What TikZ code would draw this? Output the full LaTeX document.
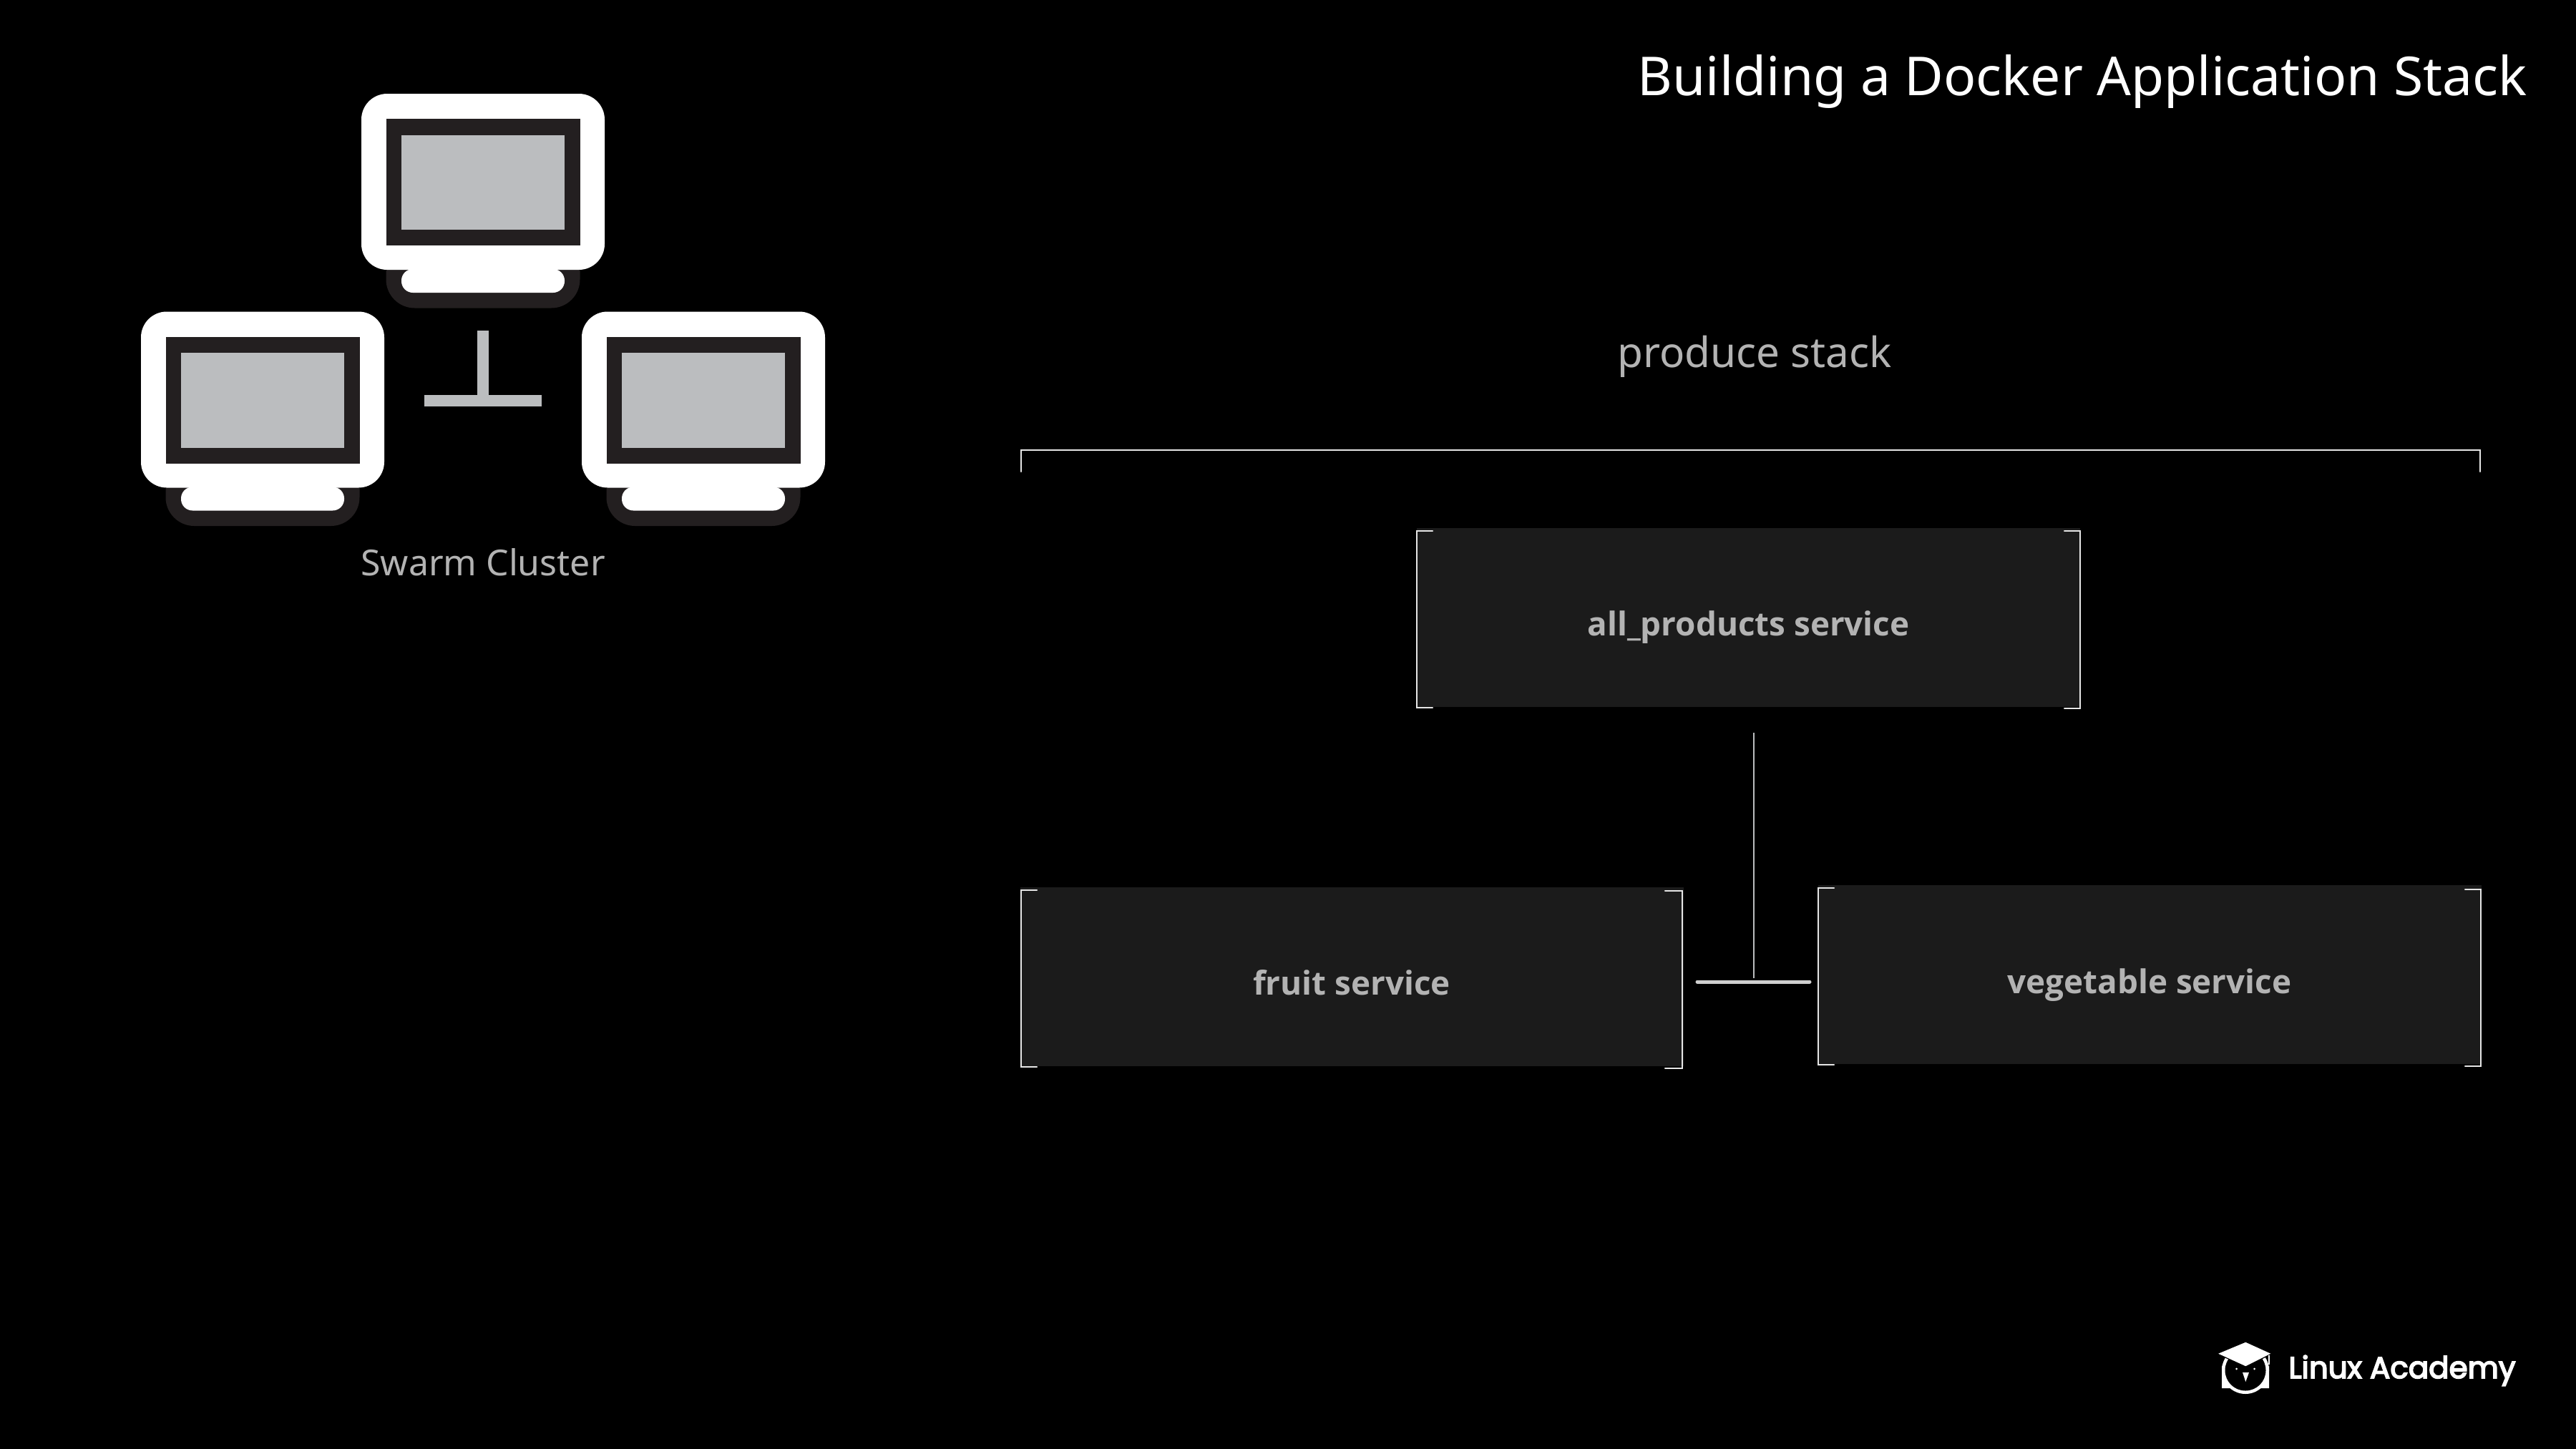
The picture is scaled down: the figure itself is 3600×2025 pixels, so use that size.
\documentclass[tikz,border=0pt]{standalone}
\usepackage{fontspec}
\setmainfont{Noto Sans}
\newfontfamily\svcfont{Open Sans}
\newfontfamily\logofont{Poppins}[FakeBold=4]
\definecolor{boxfill}{HTML}{1B1B1B}
\definecolor{scrdark}{HTML}{231F20}
\definecolor{scrgray}{HTML}{BBBDBF}
\definecolor{labelgray}{HTML}{B3B3B3}
\definecolor{linegray}{HTML}{E6E6E6}
\tikzset{
  x=0.5pt,y=-0.5pt,
  boxnode/.style={fill=boxfill,draw=none,inner sep=0pt,minimum width=#1,minimum height=125pt},
  servicelabel/.style={anchor=base,text=labelgray,font=\svcfont\bfseries\fontsize{22.9}{28}\selectfont,inner sep=0pt},
  bracketline/.style={draw=linegray,line width=1.1pt,line cap=round,line join=miter},
  plainlabel/.style={anchor=base,text=labelgray,inner sep=0pt},
}
\newcommand{\monitor}[3]{%
  \begin{scope}[shift={(#1,#2)}]
    \fill[scrdark,rounded corners=20pt] (-135.5,200) rectangle (135.5,299.5);
    \fill[white,rounded corners=8pt] (-114,245) rectangle (114,278);
    \fill[white,rounded corners=18pt] (-170,0) rectangle (170,246);
    \fill[scrdark] (-135.5,35) rectangle (135.5,212);
    \fill[scrgray] (-114,57.5) rectangle (114,190);
    \coordinate (#3) at (0,123);
  \end{scope}}
\begin{document}
\begin{tikzpicture}
\useasboundingbox (0,0) rectangle (3600,2025);
\fill[black] (0,0) rectangle (3600,2025);

\node[anchor=base east,text=white,inner sep=0pt,font=\fontsize{37.5}{42}\selectfont] (title) at (3532,133) {Building a Docker Application Stack};

\monitor{675}{131}{mtop}
\monitor{367}{435.5}{mleft}
\monitor{983}{435.5}{mright}
\coordinate (ttop) at (675,462);
\coordinate (tbar) at (675,559.5);
\coordinate (tl) at (593,559.5);
\coordinate (tr) at (757,559.5);
\draw[scrgray,line width=8pt] (ttop) -- (tbar);
\draw[scrgray,line width=8pt] (tl) -- (tr);
\node[plainlabel,font=\fontsize{25}{30}\selectfont] (swarm) at (675,804) {Swarm Cluster};

\node[plainlabel,font=\fontsize{29.2}{34}\selectfont] (produce) at (2452,513) {produce stack};
\coordinate (sl) at (1427,629);
\coordinate (sr) at (3466,629);
\draw[bracketline,line width=1.4pt] (1427,659) -- (sl) -- (sr) -- (3466,659);

\node[boxnode=463.5pt] (allprod) at (2443.5,863) {};
\node[servicelabel] (allprodtext) at (2443.5,888) {all\_products service};
\node[boxnode=463.5pt] (fruit) at (1889.5,1365) {};
\node[servicelabel] (fruittext) at (1889,1390) {fruit service};
\node[boxnode=463.5pt] (veg) at (3004,1362) {};
\node[servicelabel] (vegtext) at (3004,1388) {vegetable service};

\draw[bracketline] (2002,742) -- (1980,742) -- (1980,989) -- (2002,989);
\draw[bracketline] (2885,742) -- (2907,742) -- (2907,990) -- (2885,990);
\draw[bracketline] (1449,1244) -- (1427,1244) -- (1427,1491) -- (1449,1491);
\draw[bracketline] (2327,1245) -- (2351,1245) -- (2351,1493) -- (2327,1493);
\draw[bracketline] (2563,1241) -- (2541,1241) -- (2541,1488) -- (2563,1488);
\draw[bracketline] (3445,1243) -- (3467,1243) -- (3467,1490) -- (3445,1490);

\coordinate (cv) at (2451,1024);
\coordinate (cb) at (2451,1367);
\coordinate (chl) at (2372,1372);
\coordinate (chr) at (2529,1372);
\draw[draw=scrgray,line width=1.2pt] (cv) -- (cb);
\draw[draw=linegray!90!black,line width=2.5pt,line cap=round] (chl) -- (chr);

\begin{scope}[shift={(3060,1850)}]
  \fill[white] (78,65) circle[radius=33];
  \fill[white] (45,58) -- (45,90) -- (58,90) -- cycle;
  \fill[white] (111,58) -- (111,90) -- (98,90) -- cycle;
  \fill[black] (78,65) circle[radius=28.5];
  \fill[white,draw=black,line width=0.6pt] (38.3,41.7) -- (78.3,25) -- (115,41.7) -- (78.3,60) -- cycle;
  \fill[white] (110,44) rectangle (112,57);
  \fill[white] (74,68) -- (83,68) -- (78.3,81) -- cycle;
  \fill[white] (65.5,63) circle[radius=1.5];
  \fill[white] (90.5,63) circle[radius=1.5];
\end{scope}
\node[anchor=base west,text=white,inner sep=0pt,font=\logofont\fontsize{21}{24}\selectfont] (logo) at (3198,1926) {Linux Academy};
\end{tikzpicture}
\end{document}
